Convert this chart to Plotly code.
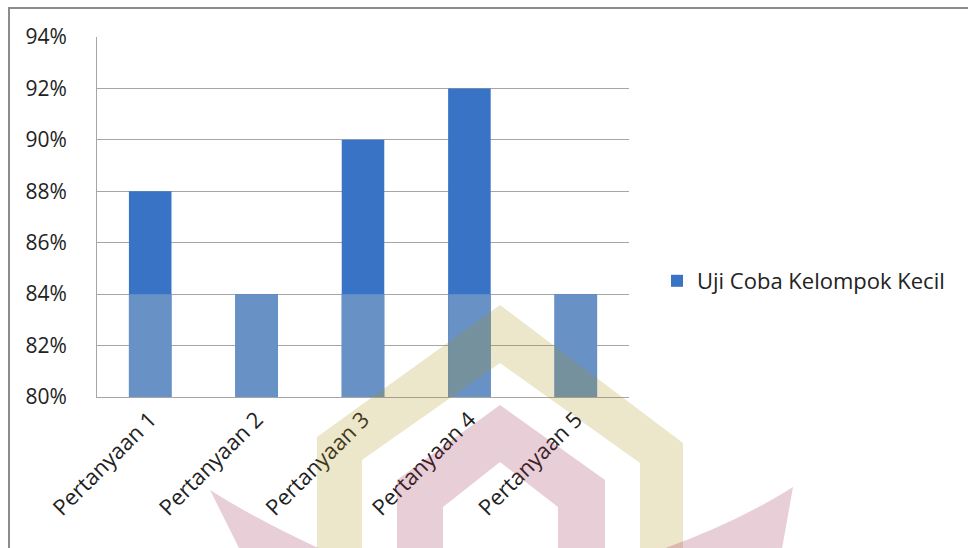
import plotly.graph_objects as go

categories = ["Pertanyaan 1", "Pertanyaan 2", "Pertanyaan 3", "Pertanyaan 4", "Pertanyaan 5"]
values = [0.88, 0.84, 0.90, 0.92, 0.84]
series_name = "Uji Coba Kelompok Kecil"
axis_min, axis_max, wash_level = 0.80, 0.94, 0.84

W, H = 968, 548
L, R, T, B = 97, 339, 37, 151
pw, ph = W - L - R, H - T - B

def px(x):
    return (x - L) / pw

def py(y):
    return (H - B - y) / ph

fig = go.Figure()
fig.add_trace(go.Bar(
    x=categories, y=values, name=series_name,
    marker=dict(color="#3873c5", line=dict(width=0)),
    width=0.4, showlegend=True,
))
# lower (washed) part of each bar, under the watermark box
lower = [min(v, wash_level) - axis_min for v in values]
fig.add_trace(go.Bar(
    x=categories, y=lower, base=axis_min, name=series_name,
    marker=dict(color="#6892c6", line=dict(width=0)),
    width=0.4, showlegend=False, hoverinfo="skip",
))

fig.update_layout(
    width=W, height=H,
    margin=dict(l=L, r=R, t=T, b=B, pad=0, autoexpand=False),
    paper_bgcolor="white", plot_bgcolor="white",
    font=dict(family="Open Sans, Liberation Sans, sans-serif", color="#222"),
    showlegend=True, barmode="overlay",
    legend=dict(x=px(657), y=py(281), xanchor="left", yanchor="middle",
                font=dict(size=22, color="#222"), bgcolor="rgba(0,0,0,0)",
                itemwidth=30),
)
fig.update_yaxes(range=[axis_min, axis_max], dtick=0.02, tickformat=".0%",
                 showgrid=True, gridcolor="#a6a6a6", gridwidth=1,
                 showline=True, linecolor="#a6a6a6", linewidth=1,
                 ticks="", ticklabelstandoff=25,
                 tickfont=dict(size=21, color="#222"), zeroline=False)
fig.update_xaxes(showline=True, linecolor="#a6a6a6", linewidth=1,
                 tickangle=-45, ticks="", tickfont=dict(size=22, color="#222"),
                 showgrid=False)

def poly(pts):
    return "M " + " L ".join(f"{px(x):.4f},{py(y):.4f}" for x, y in pts) + " Z"

tan = "rgba(170,140,20,0.22)"
pink = "rgba(150,30,70,0.22)"
tan_pts = [(317, 560), (317, 437), (500, 305), (683, 443), (683, 560), (640, 560),
           (640, 463), (500, 363), (362, 460), (362, 560)]
pink_pts = [(397, 560), (397, 480), (500, 405), (605, 480), (605, 560), (558, 560),
            (558, 507), (500, 462), (443, 507), (443, 560)]
fig.add_shape(type="path", xref="paper", yref="paper", path=poly(tan_pts),
              fillcolor=tan, line=dict(width=0), layer="above")
fig.add_shape(type="path", xref="paper", yref="paper", path=poly(pink_pts),
              fillcolor=pink, line=dict(width=0), layer="above")
lw = (f"M {px(210):.4f},{py(490):.4f} Q {px(265):.4f},{py(525):.4f} {px(345):.4f},{py(560):.4f} "
      f"L {px(245):.4f},{py(560):.4f} Z")
rw = (f"M {px(793):.4f},{py(487):.4f} L {px(780):.4f},{py(560):.4f} L {px(630):.4f},{py(560):.4f} "
      f"Q {px(725):.4f},{py(530):.4f} {px(793):.4f},{py(487):.4f} Z")
fig.add_shape(type="path", xref="paper", yref="paper", path=lw,
              fillcolor=pink, line=dict(width=0), layer="above")
fig.add_shape(type="path", xref="paper", yref="paper", path=rw,
              fillcolor=pink, line=dict(width=0), layer="above")

# outer frame (left and top edges visible)
fig.add_shape(type="rect", xref="paper", yref="paper",
              x0=px(9), x1=px(990), y0=py(8), y1=py(570),
              line=dict(color="#8c8c8c", width=2), fillcolor="rgba(0,0,0,0)", layer="below")

fig.write_html("out.html")
